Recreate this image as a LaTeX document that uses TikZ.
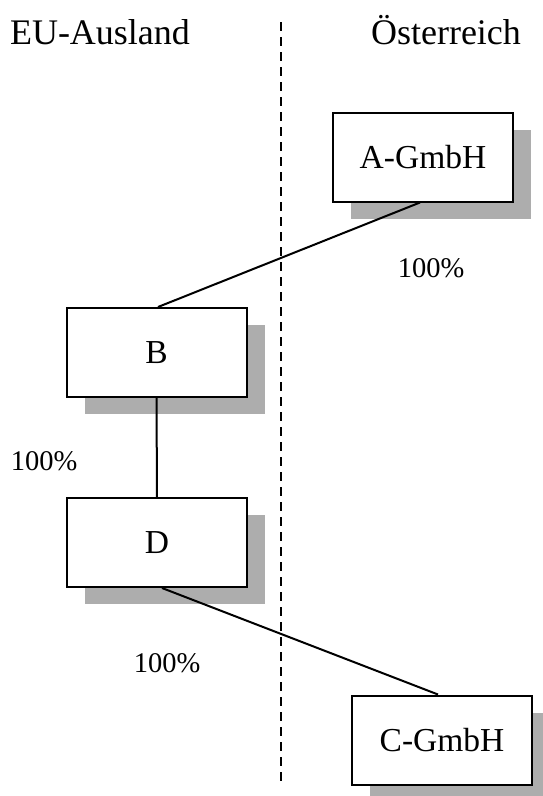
\documentclass[tikz,border=0pt]{standalone}
\usepackage{fontspec}
\setmainfont{Liberation Serif}
\usetikzlibrary{shadows}
\begin{document}
\begin{tikzpicture}[x=1pt,y=-1pt,
  company/.style={draw=black, line width=2pt, fill=white, minimum width=180pt, minimum height=89pt,
    inner sep=0pt, font=\fontsize{33.5}{38}\selectfont,
    drop shadow={shadow xshift=18pt, shadow yshift=-17pt, fill=black!32, opacity=1}},
  heading/.style={font=\fontsize{36}{40}\selectfont, anchor=base},
  share/.style={font=\fontsize{28.5}{32}\selectfont},
  link/.style={line width=2pt},
  border/.style={line width=2pt, dash pattern=on 9pt off 6pt}]
\useasboundingbox (0,0) rectangle (543,796);
\node[heading] (eu) at (100,44) {EU-Ausland};
\node[heading] (at) at (446,44) {Österreich};
\coordinate (top) at (281,22);
\coordinate (bot) at (281,784);
\draw[border] (top) -- (bot);
\node[company] (A) at (423,157) {A-GmbH};
\node[company] (B) at (156.5,352.5) {B};
\node[company] (D) at (157,542.5) {D};
\node[company] (C) at (442,740) {C-GmbH};
\draw[link] ([xshift=-3pt]A.south) -- ([xshift=1.5pt]B.north);
\draw[link] (B.south) -- (D.north);
\draw[link] ([xshift=5pt]D.south) -- ([xshift=-4pt]C.north);
\node[share] (p1) at (431,268) {100\%};
\node[share] (p2) at (44,461) {100\%};
\node[share] (p3) at (167,663) {100\%};
\end{tikzpicture}
\end{document}
